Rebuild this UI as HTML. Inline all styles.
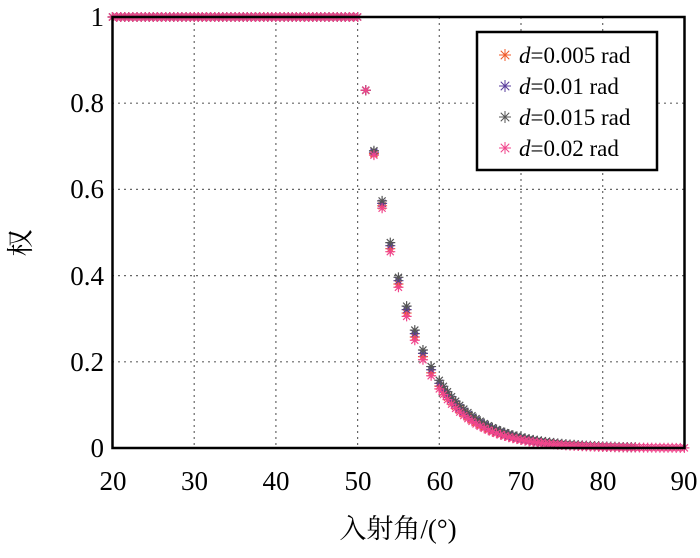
<!DOCTYPE html>
<html><head><meta charset="utf-8"><style>
body{margin:0;background:#fff;}
svg text{font-family:"Liberation Serif","Noto Serif CJK SC",serif;}
</style></head><body>
<svg id="s" width="700" height="553" xmlns="http://www.w3.org/2000/svg">
<rect width="700" height="553" fill="#fff"/>
<g id="grid" stroke="#666" stroke-width="1.2" stroke-dasharray="2,4"></g>
<g id="pts" stroke-width="1.2" fill="none"></g>
<rect x="112.5" y="17" width="572" height="431" fill="none" stroke="#000" stroke-width="2.5"/>
<g font-size="27" fill="#000" text-anchor="end">
<text x="104" y="457">0</text><text x="104" y="371">0.2</text><text x="104" y="285">0.4</text>
<text x="104" y="198">0.6</text><text x="104" y="112">0.8</text><text x="104" y="26">1</text>
</g>
<g font-size="27" fill="#000" text-anchor="middle">
<text x="113" y="490">20</text><text x="194.5" y="490">30</text><text x="276" y="490">40</text>
<text x="358" y="490">50</text><text x="440" y="490">60</text><text x="521" y="490">70</text>
<text x="603" y="490">80</text><text x="684" y="490">90</text>
<text x="398" y="538">入射角/(°)</text>
</g>
<text x="30" y="243" font-size="27" text-anchor="middle" transform="rotate(-90 30 243)">权</text>
<rect x="477" y="32" width="180" height="138" fill="#fff" stroke="#000" stroke-width="2.5"/>
<g id="leg" font-size="23"></g>
</svg>
<script>
const ns="http://www.w3.org/2000/svg";
const X=v=>112.5+(v-20)*8.17, Y=v=>448-v*431;
const g=document.getElementById('grid');
for(let v=30;v<90;v+=10){const l=document.createElementNS(ns,'line');l.setAttribute('x1',X(v));l.setAttribute('x2',X(v));l.setAttribute('y1',17);l.setAttribute('y2',448);g.appendChild(l);}
for(let v=0.2;v<1;v+=0.2){const l=document.createElementNS(ns,'line');l.setAttribute('y1',Y(v));l.setAttribute('y2',Y(v));l.setAttribute('x1',112);l.setAttribute('x2',684);g.appendChild(l);}
function star(par,x,y,c,r){let d='';for(let i=0;i<4;i++){const a=i*Math.PI/4;const dx=r*Math.cos(a),dy=r*Math.sin(a);d+=`M${x-dx} ${y-dy}L${x+dx} ${y+dy}`;}
const p=document.createElementNS(ns,'path');p.setAttribute('d',d);p.setAttribute('stroke',c);par.appendChild(p);}
const P=document.getElementById('pts');
const cols=['#f05a28','#5a3c9c','#555555','#f0468c'];
const ks=[0.195,0.19,0.185,0.2];
cols.forEach((c,i)=>{
 for(let v=20;v<=50.01;v+=0.5) star(P,X(v),Y(1),c,5);
 for(let v=51;v<=90.01;v+=(v<60?1:0.5)){
  let w=0.83*Math.exp(-ks[i]*(v-51));
  if(i<3 && v>84) continue;
  star(P,X(v),Y(w),c,5);
 }
});
const L=document.getElementById('leg');
const labels=['0.005','0.01','0.015','0.02'];
labels.forEach((t,i)=>{const y=55+i*31;star(L,505,y,cols[i],6);
const tx=document.createElementNS(ns,'text');tx.setAttribute('x',519);tx.setAttribute('y',y+8);
tx.innerHTML=`<tspan font-style="italic">d</tspan>=0.${t.slice(2)} rad`;L.appendChild(tx);});
</script>
</body></html>
